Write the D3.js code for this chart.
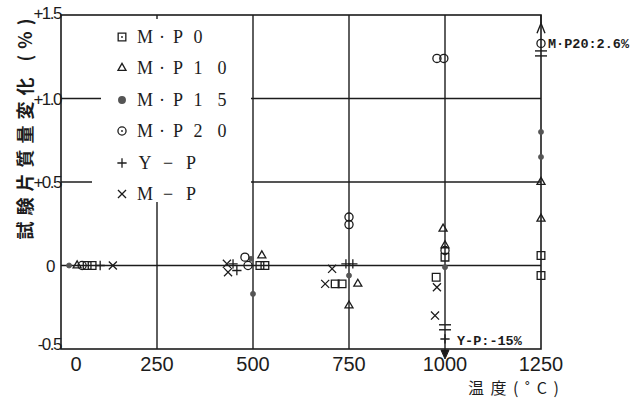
<!DOCTYPE html>
<html><head><meta charset="utf-8">
<script src="https://cdn.jsdelivr.net/npm/d3@7"></script>
<style>body{margin:0;background:#fff}</style></head>
<body><svg id="chart" width="632" height="399"></svg>
<script>
// ---- data (temperature °C, mass change value as plotted) ----
const xTicks = [0, 250, 500, 750, 1000, 1250];
const xTickLabels = ["0", "250", "500", "750", "1000", "1250"];
const yTicks = [1.5, 1.0, 0.5, 0, -0.5];
const yTickLabels = ["+1.5", "+1.0", "+0.5", "0", "-0.5"];
const seriesNames = ["M·P0", "M·P10", "M·P15", "M·P20", "Y-P", "M-P"];
const legendChars = [["M","·","P","0"],["M","·","P","1","0"],["M","·","P","1","5"],["M","·","P","2","0"],["Y","−","P"],["M","−","P"]];
const mp0 = [[68,0],[81,0],[518,0],[531,0],[714,-0.11],[732,-0.11],[1000,0.05],[977,-0.07],[1250,0.06],[1250,-0.06]];
const mp10 = [[42,0],[523,0.06],[773,-0.11],[750,-0.24],[995,0.22],[1000,0.12],[1250,0.50],[1250,0.28]];
const mp15 = [[21,0],[495,0.04],[500,-0.17],[750,-0.06],[1000,-0.01],[1250,0.80],[1250,0.65]];
const mp20 = [[55,0],[479,0.05],[487,0.0],[750,0.29],[750,0.245],[979,1.24],[997,1.24],[1000,0.09],[1250,1.33]];
const yp = [[102,0],[448,0.01],[458,-0.03],[742,0.01],[760,0.01],[1000,-0.44]];
const mp = [[135,0],[432,0.01],[435,-0.04],[706,-0.02],[688,-0.11],[979,-0.13],[974,-0.30]];
const offscaleNotes = [{t:1250, label:"M·P20:2.6%", brk:1.27, arrowTip:1.45, dir:"up"},
                       {t:1000, label:"Y-P:-15%", brk:-0.37, arrowTip:-0.56, dir:"down"}];

const svg = d3.select("#chart");
const x = d3.scaleLinear().domain([0,1250]).range([61,541]);
const y = d3.scaleLinear().domain([-0.5,1.5]).range([349,15]);
const ink = "#1c1c1c";

// gridlines
svg.append("g").selectAll("line").data([250,500,750,1000]).join("line")
  .attr("x1",d=>x(d)).attr("x2",d=>x(d)).attr("y1",y(1.5)).attr("y2",y(-0.5))
  .attr("stroke",ink).attr("stroke-width",1.4);
svg.append("g").selectAll("line").data([1.0,0.5,0]).join("line")
  .attr("x1",x(0)).attr("x2",x(1250)).attr("y1",d=>y(d)).attr("y2",d=>y(d))
  .attr("stroke",ink).attr("stroke-width",1.4);
// legend mask
svg.append("rect").attr("x",101).attr("y",19).attr("width",150).attr("height",130).attr("fill","#fff");
svg.append("rect").attr("x",92).attr("y",149).attr("width",159).attr("height",53).attr("fill","#fff");

// frame
svg.append("rect").attr("x",x(0)).attr("y",y(1.5)).attr("width",x(1250)-x(0)).attr("height",y(-0.5)-y(1.5))
  .attr("fill","none").attr("stroke",ink).attr("stroke-width",1.6);

// tick labels
svg.append("g").selectAll("text").data(xTicks).join("text")
  .attr("x",(d,i)=>x(d)+(i===0?15:0)).attr("y",371)
  .attr("text-anchor","middle").attr("font-family","Liberation Sans Narrow, Liberation Sans, sans-serif")
  .attr("font-size",20).attr("fill",ink).text((d,i)=>xTickLabels[i]);
svg.append("g").selectAll("text").data(yTicks).join("text")
  .attr("x",(d,i)=>i===3?54:61).attr("y",(d,i)=>y(d)+(i===4?-5:i===0?-2:0))
  .attr("dy","0.36em").attr("text-anchor","end").attr("letter-spacing",-1.5)
  .attr("font-family","Liberation Sans Narrow, Liberation Sans, sans-serif")
  .attr("font-size",17).attr("fill",ink).text((d,i)=>yTickLabels[i]);

// axis titles
svg.append("text").attr("transform","translate(24,126) rotate(-90)")
  .attr("text-anchor","middle").attr("dominant-baseline","central")
  .attr("font-family","Noto Sans CJK JP, sans-serif").attr("font-size",18).attr("font-weight","bold")
  .attr("letter-spacing",6).attr("fill",ink).text("試験片質量変化 (%)");
svg.append("text").attr("x",468).attr("y",387).attr("dominant-baseline","central")
  .attr("font-family","Noto Sans CJK JP, sans-serif").attr("font-size",16)
  .attr("letter-spacing",6.5).attr("fill",ink).text("温度(˚C)");

// symbols
const sym = [
  {type:d3.symbolSquare2, size:75, fill:"none"},
  {type:d3.symbolTriangle2, size:46, fill:"none"},
  {type:d3.symbolCircle, size:20, fill:"#555"},
  {type:d3.symbolCircle, size:52, fill:"none"},
  {type:d3.symbolPlus, size:30, fill:"none"},
  {type:d3.symbolTimes, size:44, fill:"none"}
];
const allSeries = [mp0, mp10, mp15, mp20, yp, mp];
allSeries.forEach((data,i)=>{
  const s = sym[i];
  svg.append("g").selectAll("path").data(data).join("path")
    .attr("transform",d=>`translate(${x(d[0])},${y(d[1])})`)
    .attr("d",d3.symbol().type(s.type).size(s.size))
    .attr("fill",s.fill==="none"?"#fff":s.fill).attr("fill-opacity",s.fill==="none"?0:1)
    .attr("stroke",s.fill==="none"?ink:"#555").attr("stroke-width",s.fill==="none"?1.3:0.8);
});

// off-scale annotations: break marks, arrows, labels
offscaleNotes.forEach(n=>{
  const cx = x(n.t), by = y(n.brk);
  [-2.5,2.5].forEach(o=>svg.append("line").attr("x1",cx-6).attr("x2",cx+6).attr("y1",by+o).attr("y2",by+o)
    .attr("stroke",ink).attr("stroke-width",1.4));
  const tip = y(n.arrowTip);
  if(n.dir==="up"){
    svg.append("path").attr("d",`M${cx-4},${tip+10}L${cx},${tip}L${cx+4},${tip+10}`)
      .attr("fill","none").attr("stroke",ink).attr("stroke-width",1.4);
    svg.append("line").attr("x1",cx).attr("x2",cx).attr("y1",tip).attr("y2",y(1.5)).attr("stroke",ink).attr("stroke-width",1.4);
    svg.append("text").attr("x",cx+7).attr("y",y(1.33)).attr("dy","0.35em")
      .attr("font-family","Liberation Mono, monospace").attr("font-size",13.5).attr("font-weight","bold")
      .attr("fill",ink).text(n.label);
  } else {
    svg.append("line").attr("x1",cx).attr("x2",cx).attr("y1",y(-0.5)).attr("y2",tip-6).attr("stroke",ink).attr("stroke-width",1.4);
    svg.append("path").attr("d",`M${cx-4},${tip-9}L${cx},${tip}L${cx+4},${tip-9}Z`)
      .attr("fill",ink).attr("stroke",ink).attr("stroke-width",1);
    svg.append("text").attr("x",cx+12).attr("y",y(-0.45)).attr("dy","0.35em")
      .attr("font-family","Liberation Mono, monospace").attr("font-size",13.5).attr("font-weight","bold")
      .attr("fill",ink).text(n.label);
  }
});

// legend
const legRowY = [37, 68, 100, 131, 163, 194];
const charX5 = [145, 162, 178, 198, 222];
const charX3 = [145, 168, 191];
seriesNames.forEach((name,i)=>{
  const s = sym[i];
  const g = svg.append("g").attr("class","legend-item").attr("data-name",name);
  g.append("path").attr("transform",`translate(122,${legRowY[i]})`)
    .attr("d",d3.symbol().type(s.type).size(s.type===d3.symbolCircle&&s.fill!=="none"?34:s.size))
    .attr("fill",s.fill==="none"?"none":s.fill).attr("stroke",s.fill==="none"?ink:"#555").attr("stroke-width",1.3);
  if(i===0 || i===3){ g.append("circle").attr("cx",122).attr("cy",legRowY[i]).attr("r",0.9).attr("fill",ink); }
  const chars = legendChars[i];
  const xs = chars.length===3 ? charX3 : charX5;
  g.selectAll("text").data(chars).join("text")
    .attr("x",(ch,j)=>xs[j]).attr("y",legRowY[i]).attr("dy","0.36em")
    .attr("text-anchor","middle").attr("font-family","Liberation Serif, serif").attr("font-size",18)
    .attr("fill",ink).text(ch=>ch);
});
</script>
</body></html>
